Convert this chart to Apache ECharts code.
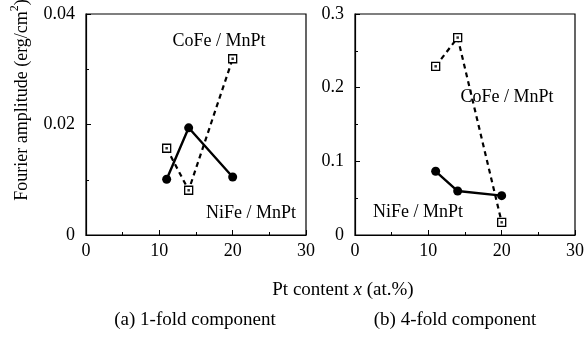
<!DOCTYPE html>
<html>
<head>
<meta charset="utf-8">
<script src="https://cdn.jsdelivr.net/npm/echarts@6/dist/echarts.min.js"></script>
<style>
  html, body { margin: 0; padding: 0; background: #fff; }
  #chart { width: 587px; height: 339px; }
</style>
</head>
<body>
<div id="chart"></div>
<script>
// Pt content (at.%)
const ptContent = [11, 14, 20]
const xTicks = [0, 10, 20, 30]

// (a) 1-fold component
const niFe1 = [0.0101, 0.0194, 0.0105]
const coFe1 = [0.0157, 0.0081, 0.0319]
// (b) 4-fold component
const niFe4 = [0.0865, 0.0597, 0.0534]
const coFe4 = [0.229, 0.268, 0.0172]

const FONT = 'Liberation Serif'

function pairs(ys) {
  return ptContent.map((x, i) => [x, ys[i]])
}

function xAxisOpt(idx) {
  return {
    gridIndex: idx,
    type: 'value',
    min: xTicks[0],
    max: xTicks[xTicks.length - 1],
    interval: 10,
    axisLine: { lineStyle: { color: '#000', width: 1.2 } },
    axisTick: { inside: true, length: 5, lineStyle: { color: '#000' } },
    minorTick: { show: true, splitNumber: 2, length: 3, lineStyle: { color: '#000' } },
    splitLine: { show: false },
    axisLabel: { color: '#000', fontFamily: FONT, fontSize: 18, margin: 7 }
  }
}

function yAxisOpt(idx, max, interval) {
  return {
    gridIndex: idx,
    type: 'value',
    min: 0,
    max: max,
    interval: interval,
    axisLine: { lineStyle: { color: '#000', width: 1.2 } },
    axisTick: { inside: true, length: 5, lineStyle: { color: '#000' } },
    minorTick: { show: true, splitNumber: 2, length: 3, lineStyle: { color: '#000' } },
    splitLine: { show: false },
    axisLabel: { color: '#000', fontFamily: FONT, fontSize: 18, margin: 11 }
  }
}

function niFeSeries(idx, ys) {
  return {
    type: 'line',
    xAxisIndex: idx,
    yAxisIndex: idx,
    data: pairs(ys),
    symbol: 'circle',
    symbolSize: 9,
    itemStyle: { color: '#000' },
    lineStyle: { color: '#000', width: 2.4 },
    animation: false
  }
}

function coFeSeries(idx, ys) {
  return [{
    type: 'line',
    xAxisIndex: idx,
    yAxisIndex: idx,
    data: pairs(ys),
    symbol: 'rect',
    symbolSize: 8,
    showAllSymbol: true,
    itemStyle: { color: '#fff', borderColor: '#000', borderWidth: 1.3 },
    lineStyle: { color: '#000', width: 2.2, type: [5, 4] },
    z: 3,
    animation: false
  }, {
    type: 'scatter',
    xAxisIndex: idx,
    yAxisIndex: idx,
    data: pairs(ys),
    symbol: 'rect',
    symbolSize: 2.5,
    itemStyle: { color: '#000' },
    z: 4,
    animation: false
  }]
}

function label(text, x, y) {
  return {
    type: 'text',
    x: x,
    y: y,
    style: { text: text, fill: '#000', font: '18px "Liberation Serif"', align: 'center', verticalAlign: 'middle' }
  }
}

const chart = echarts.init(document.getElementById('chart'))

chart.setOption({
  backgroundColor: '#fff',
  animation: false,
  grid: [
    { left: 86, top: 14, width: 220, height: 221, show: true, borderColor: '#000', borderWidth: 1.2 },
    { left: 355, top: 14, width: 221, height: 221, show: true, borderColor: '#000', borderWidth: 1.2 }
  ],
  xAxis: [xAxisOpt(0), xAxisOpt(1)],
  yAxis: [yAxisOpt(0, 0.04, 0.02), yAxisOpt(1, 0.3, 0.1)],
  series: [
    niFeSeries(0, niFe1),
    ...coFeSeries(0, coFe1),
    niFeSeries(1, niFe4),
    ...coFeSeries(1, coFe4)
  ],
  graphic: [
    label('CoFe / MnPt', 219, 41),
    label('NiFe / MnPt', 251, 213),
    label('CoFe / MnPt', 507, 97),
    label('NiFe / MnPt', 418, 212),
    {
      type: 'text',
      x: 20,
      y: 100,
      rotation: Math.PI / 2,
      style: {
        text: '{a|Fourier amplitude (erg/cm}{s|2}{a|)}',
        align: 'center',
        verticalAlign: 'middle',
        fill: '#000',
        rich: {
          a: { fontFamily: FONT, fontSize: 18, lineHeight: 22, verticalAlign: 'bottom' },
          s: { fontFamily: FONT, fontSize: 12, lineHeight: 22, verticalAlign: 'top' }
        }
      }
    },
    {
      type: 'text',
      x: 343,
      y: 290,
      style: {
        text: '{a|Pt content }{i|x}{a| (at.%)}',
        align: 'center',
        verticalAlign: 'middle',
        fill: '#000',
        rich: {
          a: { fontFamily: FONT, fontSize: 19 },
          i: { fontFamily: FONT, fontSize: 19, fontStyle: 'italic' }
        }
      }
    },
    {
      type: 'text', x: 195, y: 320,
      style: { text: '(a) 1-fold component', fill: '#000', font: '19px "Liberation Serif"', align: 'center', verticalAlign: 'middle' }
    },
    {
      type: 'text', x: 455, y: 320,
      style: { text: '(b) 4-fold component', fill: '#000', font: '19px "Liberation Serif"', align: 'center', verticalAlign: 'middle' }
    }
  ]
})
</script>
</body>
</html>
